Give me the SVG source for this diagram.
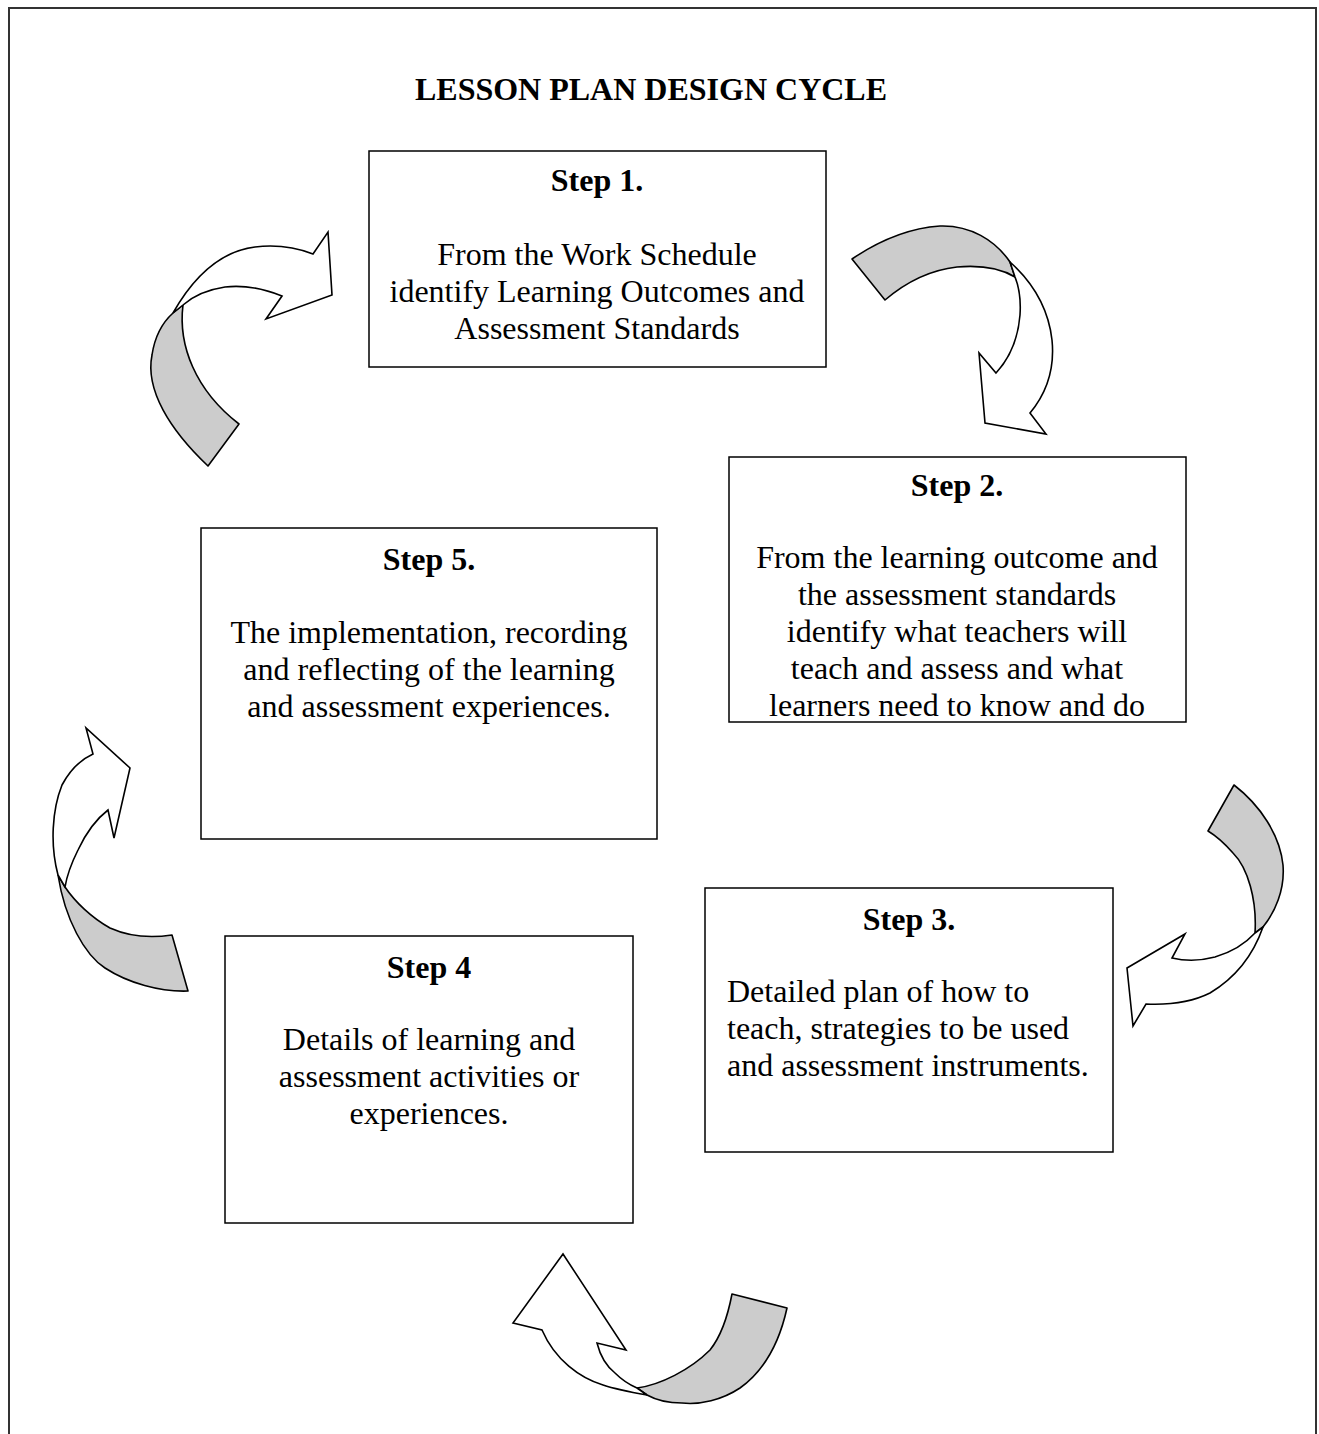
<svg xmlns="http://www.w3.org/2000/svg" width="1319" height="1434" viewBox="0 0 1319 1434">
<style>
.box{fill:#fff;stroke:#000;stroke-width:1.5}
.hd{font-family:"Liberation Serif","Times New Roman",serif;font-size:32px;font-weight:bold;text-anchor:middle;fill:#000}
.tx{font-family:"Liberation Serif","Times New Roman",serif;font-size:32px;text-anchor:middle;fill:#000}
.txl{font-family:"Liberation Serif","Times New Roman",serif;font-size:32px;fill:#000}
.back{fill:#cccccc;stroke:#000;stroke-width:1.6;stroke-linejoin:round}
.front{fill:#fff;stroke:#000;stroke-width:1.6;stroke-linejoin:miter}
</style>
<rect x="0" y="0" width="1319" height="1434" fill="#fff"/>
<rect x="9" y="8" width="1307" height="1440" fill="none" stroke="#333" stroke-width="2"/>
<text x="651" y="100" class="hd">LESSON PLAN DESIGN CYCLE</text>

<g id="connectors">
  <g id="arrow-5-1">
    <path class="back" d="M208,466 C170,430 145,390 152,355 C155,335 163,322 173,313 L183,305 C178,345 195,390 239,424 Z"/>
    <path class="front" d="M173,313 C190,283 215,252 255,247 C280,244 300,249 313,254 L328,232 L332,295 L266,319 L282,296 C262,288 242,285 225,287 C205,290 192,297 183,305 Z"/>
  </g>
  <g id="arrow-1-2">
    <path class="back" d="M852,259 C880,240 910,228 940,226 C970,225 995,240 1010,262 L1015,277 C1000,268 980,265 957,267 C930,270 905,283 885,300 Z"/>
    <path class="front" d="M1010,262 C1030,280 1048,305 1052,340 C1055,370 1045,395 1030,413 L1046,434 L985,423 L979,353 L996,373 C1008,360 1018,340 1020,315 C1021,300 1019,287 1015,277 Z"/>
  </g>
  <g id="arrow-2-3">
    <path class="back" d="M1234,785 C1260,805 1280,835 1283,865 C1285,890 1275,912 1263,927 L1255,933 C1257,900 1248,868 1233,853 C1226,845 1218,837 1208,831 Z"/>
    <path class="front" d="M1263,927 C1255,950 1240,975 1210,993 C1190,1003 1168,1005 1146,1004 L1133,1026 L1127,968 L1185,934 L1172,958 C1185,961 1200,961 1215,957 C1232,952 1245,944 1255,933 Z"/>
  </g>
  <g id="arrow-3-4">
    <path class="back" d="M732,1294 L787,1308 C780,1340 765,1370 740,1388 C722,1400 700,1405 682,1403 C668,1403 656,1400 647,1395 L637,1388 C660,1385 690,1370 710,1350 C722,1335 728,1315 732,1294 Z"/>
    <path class="front" d="M647,1395 C630,1392 615,1389 603,1385 C580,1378 555,1360 542,1330 L513,1323 L563,1254 L626,1350 L597,1343 C600,1355 605,1365 615,1373 C622,1380 630,1385 637,1388 Z"/>
  </g>
  <g id="arrow-4-5">
    <path class="back" d="M172,935 L188,991 C160,992 128,983 105,968 C85,955 65,920 58,875 L65,887 C75,902 92,918 110,928 C130,937 152,938 172,935 Z"/>
    <path class="front" d="M58,875 C50,845 52,810 62,785 C70,770 80,760 93,754 L86,728 L130,768 L114,838 L108,810 C95,820 85,835 78,850 C72,862 67,875 65,887 Z"/>
  </g>
</g>

<g id="step1">
  <rect class="box" x="369" y="151" width="457" height="216"/>
  <text class="hd" x="597" y="191">Step 1.</text>
  <text class="tx" x="597" y="265">From the Work Schedule</text>
  <text class="tx" x="597" y="302">identify Learning Outcomes and</text>
  <text class="tx" x="597" y="339">Assessment Standards</text>
</g>
<g id="step2">
  <rect class="box" x="729" y="457" width="457" height="265"/>
  <text class="hd" x="957" y="496">Step 2.</text>
  <text class="tx" x="957" y="568">From the learning outcome and</text>
  <text class="tx" x="957" y="605">the assessment standards</text>
  <text class="tx" x="957" y="642">identify what teachers will</text>
  <text class="tx" x="957" y="679">teach and assess and what</text>
  <text class="tx" x="957" y="716">learners need to know and do</text>
</g>
<g id="step3">
  <rect class="box" x="705" y="888" width="408" height="264"/>
  <text class="hd" x="909" y="930">Step 3.</text>
  <text class="txl" x="727" y="1002">Detailed plan of how to</text>
  <text class="txl" x="727" y="1039">teach, strategies to be used</text>
  <text class="txl" x="727" y="1076">and assessment instruments.</text>
</g>
<g id="step4">
  <rect class="box" x="225" y="936" width="408" height="287"/>
  <text class="hd" x="429" y="978">Step 4</text>
  <text class="tx" x="429" y="1050">Details of learning and</text>
  <text class="tx" x="429" y="1087">assessment activities or</text>
  <text class="tx" x="429" y="1124">experiences.</text>
</g>
<g id="step5">
  <rect class="box" x="201" y="528" width="456" height="311"/>
  <text class="hd" x="429" y="570">Step 5.</text>
  <text class="tx" x="429" y="643">The implementation, recording</text>
  <text class="tx" x="429" y="680">and reflecting of the learning</text>
  <text class="tx" x="429" y="717">and assessment experiences.</text>
</g>
</svg>
